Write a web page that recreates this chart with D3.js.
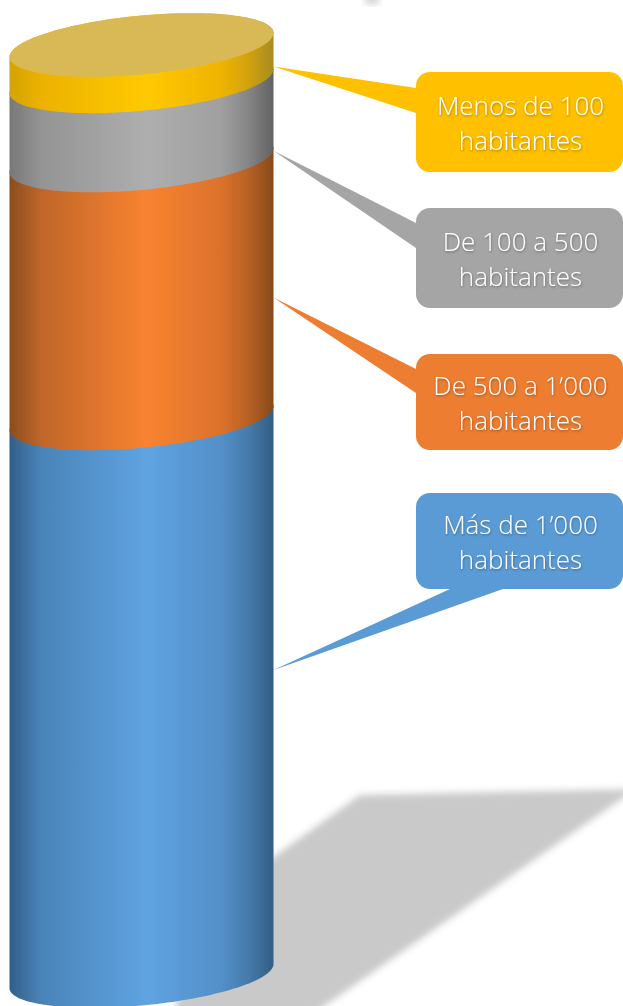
<!DOCTYPE html>
<html>
<head>
<meta charset="utf-8">
<script src="https://cdn.jsdelivr.net/npm/d3@7"></script>
<style>
  html, body { margin: 0; padding: 0; background: #fff; overflow: hidden; }
  svg { display: block; }
  .label { font-family: "Open Sans", sans-serif; font-weight: 300; font-size: 26px; fill: #fff; text-anchor: middle; }
</style>
</head>
<body>
<div id="chart"></div>
<script>
const categories = ['Más de 1’000 habitantes', 'De 500 a 1’000 habitantes', 'De 100 a 500 habitantes', 'Menos de 100 habitantes'];
const values = [59.9, 27.7, 8.5, 3.9];
const labelLines = [
  ['Más de 1’000', 'habitantes'],
  ['De 500 a 1’000', 'habitantes'],
  ['De 100 a 500', 'habitantes'],
  ['Menos de 100', 'habitantes']
];

const width = 623;
const height = 1006;

const colors = ['#5b9bd5', '#ed7d31', '#a5a5a5', '#ffc000'];
const shades = [
  { edgeL: '#325f88', midL: '#4a84b8', light: '#5fa3e2', midR: '#5390c8', edgeR: '#335d85' },
  { edgeL: '#8a4d1e', midL: '#c0662a', light: '#f98330', midR: '#dc722c', edgeR: '#864a1a' },
  { edgeL: '#787878', midL: '#949494', light: '#aeaeae', midR: '#a0a0a0', edgeR: '#626262' },
  { edgeL: '#d4a208', midL: '#ecb200', light: '#ffc900', midR: '#efb400', edgeR: '#a88a20' }
];
const capColor = '#d9b955';

// cylinder: left/right edge, half height of the ellipse, slope of its long axis
const left = 9.5;
const right = 273.5;
const minorR = 29.5;
const slope = -24 / 264;
const cx = (left + right) / 2;
const majorR = (right - left) / 2;

// y is the height on the left edge of the cylinder
const y = d3.scaleLinear().domain([0, d3.sum(values)]).range([988, 57]);

const svg = d3.select('#chart').append('svg')
  .attr('width', width)
  .attr('height', height);

const defs = svg.append('defs');

defs.append('filter').attr('id', 'blur')
  .attr('x', '-10%').attr('y', '-10%').attr('width', '120%').attr('height', '120%')
  .append('feGaussianBlur').attr('stdDeviation', 3.5);

defs.append('filter').attr('id', 'softEdge')
  .append('feGaussianBlur').attr('stdDeviation', 0.4);

const textShadow = defs.append('filter').attr('id', 'textShadow')
  .attr('x', '-10%').attr('y', '-20%').attr('width', '120%').attr('height', '150%');
textShadow.append('feDropShadow')
  .attr('dx', 0.6).attr('dy', 1.2).attr('stdDeviation', 0.9)
  .attr('flood-color', '#000').attr('flood-opacity', 0.35);

shades.forEach(function (s, i) {
  const g = defs.append('linearGradient').attr('id', 'band' + i)
    .attr('gradientUnits', 'userSpaceOnUse')
    .attr('x1', left).attr('x2', right).attr('y1', 0).attr('y2', 0);
  const turn = d3.interpolateRgb(s.midR, s.edgeR)(0.4);
  [[0, s.edgeL], [0.12, s.midL], [0.52, s.light], [0.8, s.midR], [0.9, turn], [1, s.edgeR]].forEach(function (d) {
    g.append('stop').attr('offset', d[0]).attr('stop-color', d[1]);
  });
});

// shadow on the floor
svg.append('path')
  .attr('d', d3.line()([[360, 795], [640, 789], [640, 786], [290, 1030], [170, 1030], [200, 910]]) + 'Z')
  .attr('fill', '#c9c9c9')
  .attr('filter', 'url(#blur)');

// bit of a shape cut off at the top of the picture
svg.append('ellipse')
  .attr('cx', 372).attr('cy', -1).attr('rx', 8).attr('ry', 6)
  .attr('fill', '#d4d4d4')
  .attr('filter', 'url(#blur)');

// outline of an ellipse on the cylinder, from angle a0 to a1
function rim(yLeft, a0, a1) {
  const cy = yLeft + slope * majorR;
  return d3.range(0, 81).map(function (i) {
    const t = a0 + (a1 - a0) * i / 80;
    return [cx + majorR * Math.cos(t), cy + slope * majorR * Math.cos(t) + minorR * Math.sin(t)];
  });
}

let total = 0;
const bands = values.map(function (v, i) {
  const band = { i: i, y0: y(total), y1: y(total + v) };
  total += v;
  return band;
});

const line = d3.line();

// bottom band first, each one covers the top of the band below
svg.selectAll('.band')
  .data(bands)
  .enter()
  .append('path')
  .attr('class', 'band')
  .attr('d', function (d) {
    return line(rim(d.y0, 0, Math.PI).concat(rim(d.y1, Math.PI, 2 * Math.PI))) + 'Z';
  })
  .attr('fill', function (d) { return 'url(#band' + d.i + ')'; })
  .attr('filter', 'url(#softEdge)');

svg.append('path')
  .attr('d', line(rim(y(total), 0, 2 * Math.PI)) + 'Z')
  .attr('fill', capColor)
  .attr('filter', 'url(#softEdge)');

// callouts, same order as categories
const boxX = 416;
const boxW = 207;
const boxes = [
  { top: 493, h: 96, tipShare: 0.473, base: [[450, 589], [503, 589]] },
  { top: 354, h: 96, tipShare: 0.578, base: [[416, 369], [416, 393]] },
  { top: 208, h: 100, tipShare: 1.03, base: [[416, 223], [416, 248]] },
  { top: 72, h: 100, tipShare: 0.92, base: [[416, 88], [416, 113]] }
];

const callout = svg.selectAll('.callout')
  .data(bands)
  .enter()
  .append('g')
  .attr('class', 'callout');

callout.append('path')
  .attr('d', function (d) {
    const b = boxes[d.i];
    // the tip sits on the right edge of the cylinder, inside its band
    const yTip = d.y1 + (d.y0 - d.y1) * b.tipShare + slope * (right - left);
    return line([[right, yTip], b.base[0], b.base[1]]) + 'Z';
  })
  .attr('fill', function (d) { return colors[d.i]; });

callout.append('rect')
  .attr('x', boxX)
  .attr('y', function (d) { return boxes[d.i].top; })
  .attr('width', boxW)
  .attr('height', function (d) { return boxes[d.i].h; })
  .attr('rx', 14)
  .attr('fill', function (d) { return colors[d.i]; });

callout.append('text')
  .attr('class', 'label')
  .attr('filter', 'url(#textShadow)')
  .selectAll('tspan')
  .data(function (d) {
    return labelLines[d.i].map(function (t, k) {
      return { text: t, y: boxes[d.i].top + boxes[d.i].h / 2 - 7 + k * 35 };
    });
  })
  .enter()
  .append('tspan')
  .attr('x', boxX + boxW / 2 + 1)
  .attr('y', function (d) { return d.y; })
  .text(function (d) { return d.text; });
</script>
</body>
</html>
